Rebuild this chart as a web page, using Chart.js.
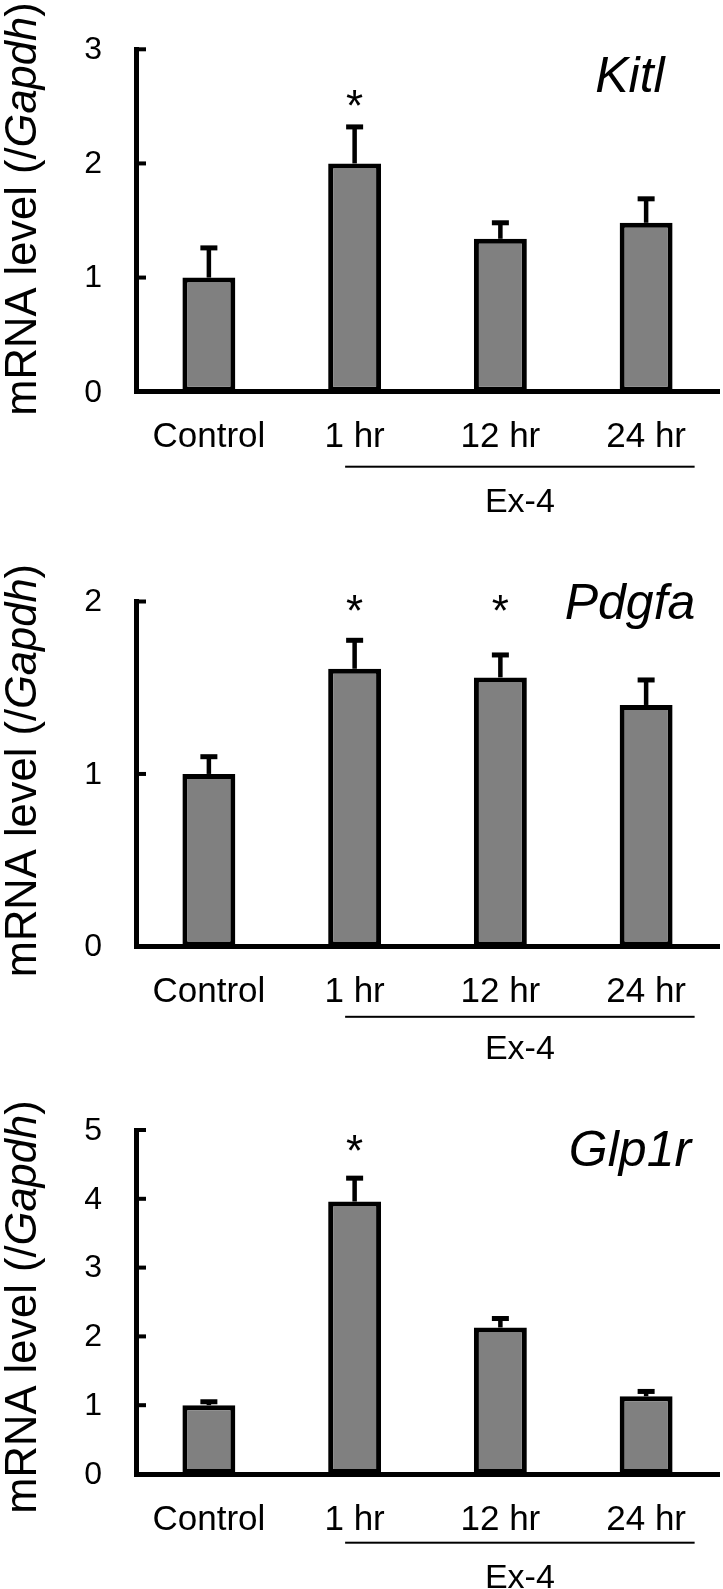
<!DOCTYPE html>
<html>
<head>
<meta charset="utf-8">
<script src="https://cdn.jsdelivr.net/npm/chart.js@4.4.1/dist/chart.umd.min.js"></script>
<style>
  body { margin: 0; background: #fff; }
  .panel { position: absolute; left: 0; width: 723px; }
</style>
</head>
<body>
<div class="panel" style="top:0px"><canvas id="kitlChart" width="723" height="520"></canvas></div>
<div class="panel" style="top:520px"><canvas id="pdgfaChart" width="723" height="550"></canvas></div>
<div class="panel" style="top:1050px"><canvas id="glp1rChart" width="723" height="539"></canvas></div>
<script>
// DATA
const categories = ["Control", "1 hr", "12 hr", "24 hr"];
const treatmentLabel = "Ex-4";

const kitlValues = [1.00, 2.00, 1.34, 1.48];
const kitlErrors = [0.26, 0.32, 0.14, 0.21];
const kitlStars  = [false, true, false, false];

const pdgfaValues = [1.00, 1.61, 1.56, 1.40];
const pdgfaErrors = [0.10, 0.165, 0.13, 0.145];
const pdgfaStars  = [false, true, true, false];

const glp1rValues = [1.00, 3.96, 2.13, 1.13];
const glp1rErrors = [0.05, 0.34, 0.13, 0.07];
const glp1rStars  = [false, true, false, false];

const FONT = "'Liberation Sans', Arial, sans-serif";

// layout of each panel (canvas coords)
const panels = [
  { id: "kitlChart",  gene: "Kitl",  values: kitlValues,  errors: kitlErrors,  stars: kitlStars,
    yMax: 3, height: 520, plotTop: 49.3, plotBottom: 391.7, starAt: 2.57, geneBase: 43, lineOff: 75, exOff: 120, titleY: 209 },
  { id: "pdgfaChart", gene: "Pdgfa", values: pdgfaValues, errors: pdgfaErrors, stars: pdgfaStars,
    yMax: 2, height: 550, plotTop: 81.5, plotBottom: 426.4, starAt: 1.99, geneBase: 17, lineOff: 70.4, exOff: 112.6, titleY: 250.6 },
  { id: "glp1rChart", gene: "Glp1r", values: glp1rValues, errors: glp1rErrors, stars: glp1rStars,
    yMax: 5, height: 539, plotTop: 80,   plotBottom: 424,   starAt: 4.81, geneBase: 35.7, lineOff: 68.7, exOff: 113.7, titleY: 257 }
];

// error bars, stars, inward ticks, tick labels, gene name, Ex-4 bracket, y title
const decor = {
  id: "decor",
  afterDraw(chart, args, opts) {
    const p = opts.panel;
    const ctx = chart.ctx;
    const xs = chart.scales.x, ys = chart.scales.y;
    const area = chart.chartArea;
    ctx.save();
    ctx.fillStyle = "#000";

    // inward y ticks + labels
    ctx.font = "32px " + FONT;
    ctx.textAlign = "right";
    ctx.textBaseline = "middle";
    ys.ticks.forEach(t => {
      const y = ys.getPixelForValue(t.value);
      ctx.fillRect(area.left, y - 2, 10, 4);
      ctx.fillText(String(t.value), area.left - 34, y + 1);
    });

    // error bars
    p.values.forEach((v, i) => {
      const x = xs.getPixelForValue(i);
      const yBar = ys.getPixelForValue(v);
      const yTop = ys.getPixelForValue(v + p.errors[i]);
      ctx.fillRect(x - 2.25, yTop, 4.5, yBar - yTop);
      ctx.fillRect(x - 8.5, yTop - 2.5, 17, 5);
    });

    // significance stars
    ctx.font = "44px " + FONT;
    ctx.textAlign = "center";
    ctx.textBaseline = "alphabetic";
    const m = ctx.measureText("*");
    p.stars.forEach((s, i) => {
      if (!s) return;
      const cy = ys.getPixelForValue(p.starAt);
      ctx.fillText("*", xs.getPixelForValue(i), cy + (m.actualBoundingBoxAscent - m.actualBoundingBoxDescent) / 2);
    });

    // gene name
    ctx.font = "italic 50px " + FONT;
    ctx.fillText(p.gene, 630, area.top + p.geneBase);

    // Ex-4 bracket
    const x1 = xs.getPixelForValue(1) - 9.5;
    const x2 = xs.getPixelForValue(3) + 48.5;
    ctx.fillRect(x1, area.bottom + p.lineOff - 1, x2 - x1, 2);
    ctx.font = "34px " + FONT;
    ctx.fillText(treatmentLabel, (x1 + x2) / 2, area.bottom + p.exOff);

    // y title with italic Gapdh
    const size = "43.5px ";
    const parts = [["mRNA level (/", size + FONT], ["Gapdh", "italic " + size + FONT], [")", size + FONT]];
    let total = 0;
    parts.forEach(pt => { ctx.font = pt[1]; total += ctx.measureText(pt[0]).width; });
    ctx.translate(36, p.titleY);
    ctx.rotate(-Math.PI / 2);
    ctx.textAlign = "left";
    let cx = -total / 2;
    parts.forEach(pt => {
      ctx.font = pt[1];
      ctx.fillText(pt[0], cx, 0);
      cx += ctx.measureText(pt[0]).width;
    });
    ctx.restore();
  }
};

panels.forEach(p => {
  const ctx = document.getElementById(p.id).getContext("2d");
  new Chart(ctx, {
    type: "bar",
    data: {
      labels: categories,
      datasets: [{
        data: p.values,
        backgroundColor: "#808080",
        borderColor: "#000",
        borderWidth: 5,
        borderSkipped: false,
        barPercentage: 0.363,
        categoryPercentage: 1
      }]
    },
    options: {
      responsive: false,
      animation: false,
      layout: { padding: { top: p.plotTop, right: 4, left: 0, bottom: 0 } },
      plugins: {
        legend: { display: false },
        tooltip: { enabled: false },
        decor: { panel: p }
      },
      scales: {
        x: {
          z: 1,
          grid: { display: false, drawTicks: false },
          border: { display: true, color: "#000", width: 5 },
          ticks: { color: "#000", font: { family: FONT, size: 35 }, padding: 25, maxRotation: 0 },
          afterFit: s => { s.height = p.height - p.plotBottom; }
        },
        y: {
          z: 1,
          min: 0,
          max: p.yMax,
          grid: { display: false, drawTicks: false },
          border: { display: true, color: "#000", width: 5 },
          ticks: { display: false, stepSize: 1 },
          afterFit: s => { s.width = 136; }
        }
      }
    },
    plugins: [decor]
  });
});
</script>
</body>
</html>
